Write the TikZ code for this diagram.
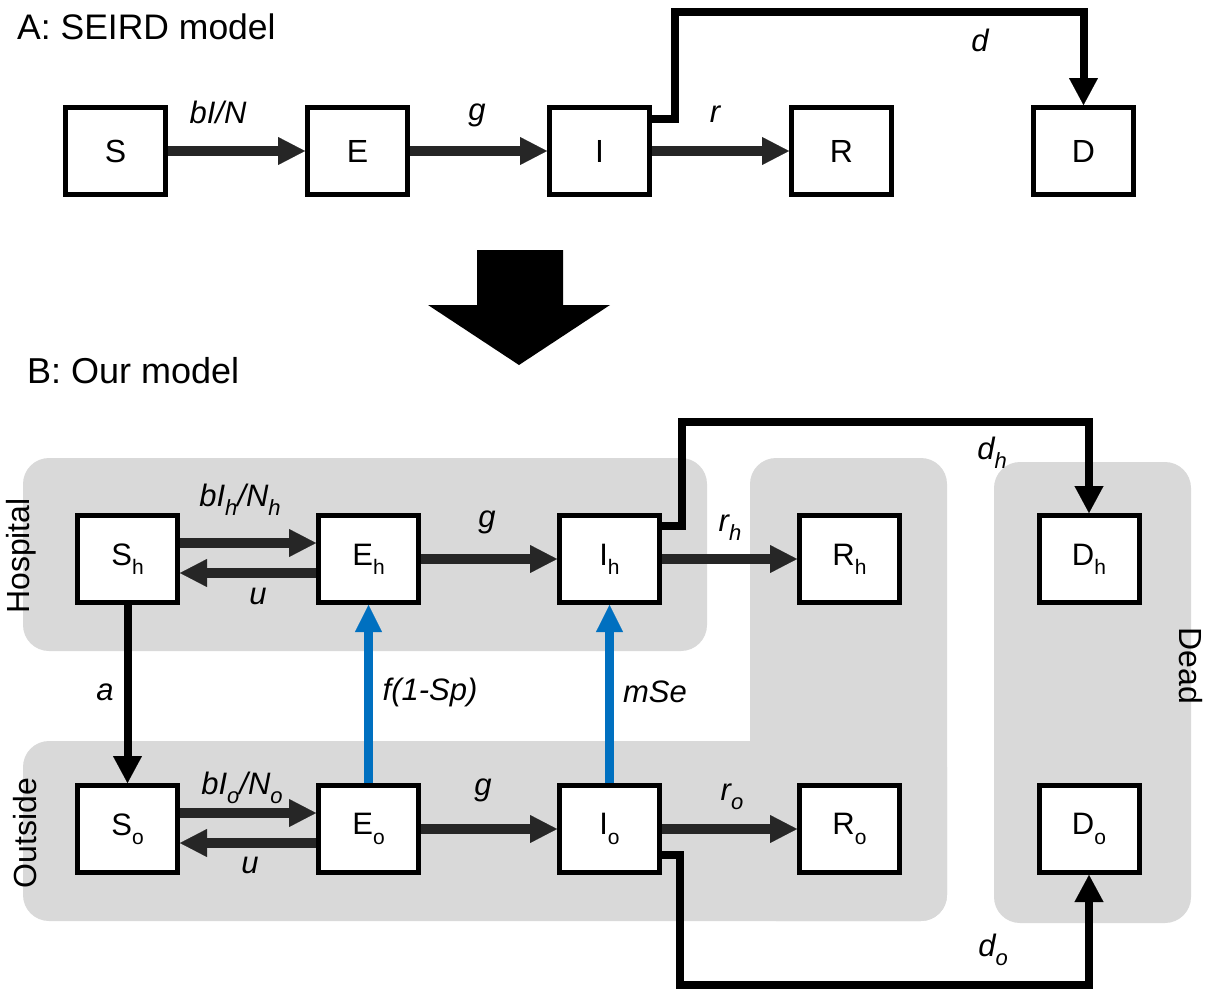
\documentclass[tikz,border=0pt]{standalone}
\usepackage{fontspec}
\setmainfont{Liberation Sans}
\usetikzlibrary{arrows.meta}
\definecolor{regiongray}{HTML}{D9D9D9}
\definecolor{arrowgray}{HTML}{262626}
\definecolor{testblue}{HTML}{0070C0}
\newcommand\lowsub[1]{\raisebox{-0.3em}{\fontsize{21}{21}\selectfont #1}}
\newcommand\labsub[1]{\raisebox{-0.3em}{\fontsize{22}{22}\selectfont #1}}
\begin{document}
\begin{tikzpicture}[x=1pt,y=-1pt,
  box/.style={draw=black,line width=5pt,fill=white,minimum width=100pt,minimum height=87pt,inner sep=0pt},
  boxA/.style={box,font=\fontsize{32}{32}\selectfont},
  boxB/.style={box,font=\fontsize{31}{31}\selectfont},
  flow/.style={draw=arrowgray,line width=10pt,-{Triangle[length=27pt,width=28pt,line width=0.1pt]}},
  death/.style={draw=black,line width=8pt,-{Triangle[length=27pt,width=29pt,line width=0.1pt]}},
  test/.style={draw=testblue,line width=9pt,-{Triangle[length=27pt,width=27pt,line width=0.1pt]}},
  lab/.style={font=\fontsize{31}{31}\selectfont\itshape,inner sep=0pt},
  region/.style={fill=regiongray,rounded corners=26pt},
  side/.style={font=\fontsize{32}{32}\selectfont,inner sep=0pt},
  title/.style={font=\fontsize{35.5}{36}\selectfont,inner sep=0pt,anchor=base west}
]
\useasboundingbox (0,0) rectangle (1208,991);

% ---------- Part A ----------
\node[title] (tA) at (17,39) {A: SEIRD model};
\node[boxA] (S) at (115.5,151) {S};
\node[boxA] (E) at (357.5,151) {E};
\node[boxA] (I) at (599.5,151) {I};
\node[boxA] (R) at (841.5,151) {R};
\node[boxA] (D) at (1083.5,151) {D};
\draw[flow] (S) -- (E);
\draw[flow] (E) -- (I);
\draw[flow] (I) -- (R);
\draw[death] ([yshift=32pt]I.east) -- ++(23,0) |- ([yshift=93pt]D.north) -- (D.north);
\node[lab] (lSE) at (218,112) {bI/N};
\node[lab] (lEI) at (477,115) {g};
\node[lab] (lIR) at (715,114) {r};
\node[lab] (lID) at (980,40) {d};

% ---------- big arrow ----------
\fill[black] (477,250) -- (563,250) -- (563,305) -- (610,305) -- (519,365) -- (428,305) -- (477,305) -- cycle;

% ---------- Part B ----------
\node[title,font=\fontsize{36}{36}\selectfont] (tB) at (27,383) {B: Our model};
\fill[region] (23,458) rectangle (707,651);
\fill[region] (750,458) rectangle (947,921);
\fill[region] (23,741) rectangle (947,921);
\fill[region] (994,462) rectangle (1191,923);

\node[side,rotate=90] (hosp) at (21,556) {Hospital};
\node[side,rotate=90] (outs) at (25,833) {Outside};
\node[side,rotate=-90] (dead) at (1191,666) {Dead};

\node[boxB] (Sh) at (127.5,559) {S\lowsub{h}};
\node[boxB] (Eh) at (368.5,559) {E\lowsub{h}};
\node[boxB] (Ih) at (609.5,559) {I\lowsub{h}};
\node[boxB] (Rh) at (849.5,559) {R\lowsub{h}};
\node[boxB] (Dh) at (1089,559) {D\lowsub{h}};
\node[boxB] (So) at (127.5,829) {S\lowsub{o}};
\node[boxB] (Eo) at (368.5,829) {E\lowsub{o}};
\node[boxB] (Io) at (609.5,829) {I\lowsub{o}};
\node[boxB] (Ro) at (849.5,829) {R\lowsub{o}};
\node[boxB] (Do) at (1089,829) {D\lowsub{o}};

\draw[flow] ([yshift=16pt]Sh.east) -- ([yshift=16pt]Eh.west);
\draw[flow] ([yshift=-14pt]Eh.west) -- ([yshift=-14pt]Sh.east);
\draw[flow] (Eh) -- (Ih);
\draw[flow] (Ih) -- (Rh);
\draw[flow] ([yshift=16pt]So.east) -- ([yshift=16pt]Eo.west);
\draw[flow] ([yshift=-14pt]Eo.west) -- ([yshift=-14pt]So.east);
\draw[flow] (Eo) -- (Io);
\draw[flow] (Io) -- (Ro);
\draw[death] (Sh) -- (So);
\draw[test] (Eo) -- (Eh);
\draw[test] (Io) -- (Ih);
\draw[death] ([yshift=33pt]Ih.east) -- ++(20,0) |- ([yshift=91pt]Dh.north) -- (Dh.north);
\draw[death] ([yshift=-26pt]Io.east) -- ++(18,0) |- ([yshift=-110pt]Do.south) -- (Do.south);

\node[lab] (lShEh) at (240,500) {bI\labsub{h}/N\labsub{h}};
\node[lab] (lEhSh) at (258,596) {u};
\node[lab] (lEhIh) at (487,522) {g};
\node[lab] (lIhRh) at (730,528) {r\labsub{h}};
\node[lab] (lIhDh) at (992,453) {d\labsub{h}};
\node[lab] (lShSo) at (105,692) {a};
\node[lab] (lEoEh) at (430,692) {f(1-Sp)};
\node[lab] (lIoIh) at (655,692) {mSe};
\node[lab] (lSoEo) at (242,788) {bI\labsub{o}/N\labsub{o}};
\node[lab] (lEoSo) at (250,865) {u};
\node[lab] (lEoIo) at (483,790) {g};
\node[lab] (lIoRo) at (732,797) {r\labsub{o}};
\node[lab] (lIoDo) at (993,950) {d\labsub{o}};
\end{tikzpicture}
\end{document}
